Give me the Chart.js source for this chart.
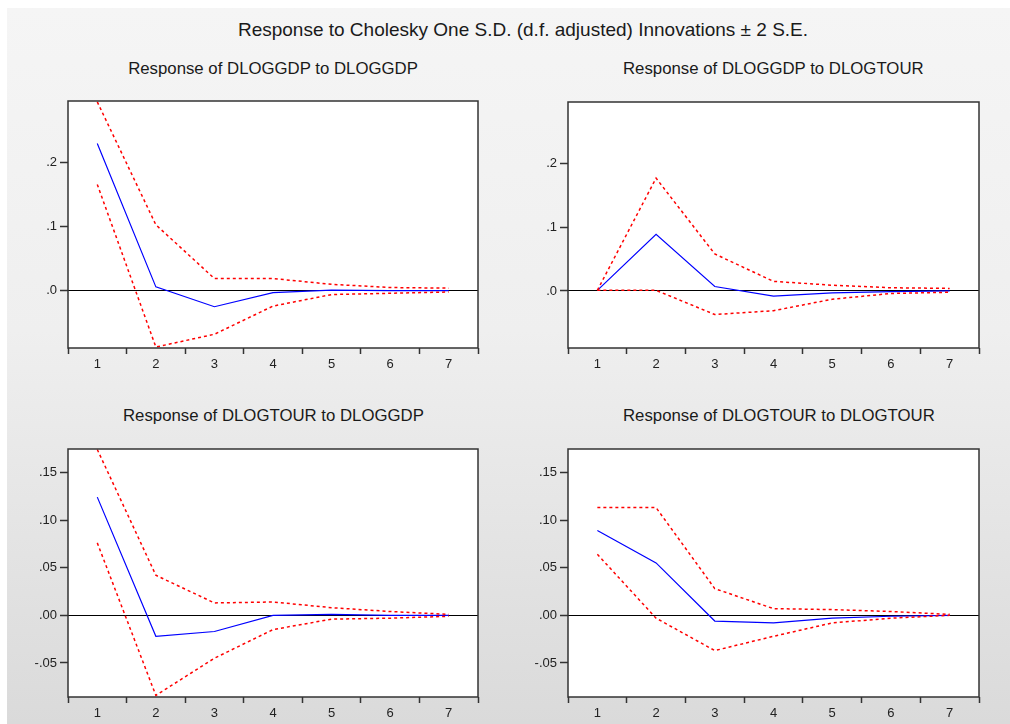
<!DOCTYPE html>
<html>
<head>
<meta charset="utf-8">
<script src="https://cdn.jsdelivr.net/npm/chart.js@4.4.1/dist/chart.umd.min.js"></script>
<style>
body{margin:0;width:1010px;height:724px;background:#fff;font-family:"Liberation Sans",Arial,sans-serif;overflow:hidden;position:relative}
#page{position:absolute;left:7px;top:8px;right:0;bottom:0;background:linear-gradient(#f5f5f5,#efefef 45%,#dadada)}
.t{position:absolute;color:#1a1a1a;text-align:center;white-space:nowrap}
canvas{position:absolute}
</style>
</head>
<body>
<div id="page"></div>
<div class="t" style="left:173px;width:700px;top:19px;font-size:19px;line-height:22px">Response to Cholesky One S.D. (d.f. adjusted) Innovations ± 2 S.E.</div>
<div class="t" style="left:123px;width:300px;top:59px;font-size:16.8px;line-height:19px">Response of DLOGGDP to DLOGGDP</div>
<div class="t" style="left:623px;width:300px;top:59px;font-size:16.8px;line-height:19px">Response of DLOGGDP to DLOGTOUR</div>
<div class="t" style="left:123px;width:300px;top:406px;font-size:16.8px;line-height:19px">Response of DLOGTOUR to DLOGGDP</div>
<div class="t" style="left:623px;width:300px;top:406px;font-size:16.8px;line-height:19px">Response of DLOGTOUR to DLOGTOUR</div>
<canvas id="c1" width="500" height="290" style="left:0;top:90px"></canvas>
<canvas id="c2" width="510" height="290" style="left:500px;top:90px"></canvas>
<canvas id="c3" width="500" height="294" style="left:0;top:430px"></canvas>
<canvas id="c4" width="510" height="294" style="left:500px;top:430px"></canvas>
<script>
const steps=["1","2","3","4","5","6","7"];

// DLOGGDP to DLOGGDP
const gdpGdp=[0.230,0.006,-0.025,-0.003,0.001,0.000,0.000];
const gdpGdpUp=[0.295,0.103,0.019,0.019,0.010,0.005,0.004];
const gdpGdpLo=[0.166,-0.088,-0.068,-0.024,-0.006,-0.004,-0.002];

// DLOGGDP to DLOGTOUR
const gdpTour=[0.001,0.089,0.007,-0.008,-0.003,-0.001,0.000];
const gdpTourUp=[0.001,0.177,0.058,0.015,0.009,0.005,0.004];
const gdpTourLo=[0.001,0.001,-0.037,-0.031,-0.013,-0.004,-0.002];

// DLOGTOUR to DLOGGDP
const tourGdp=[0.124,-0.022,-0.017,0.000,0.001,0.000,0.000];
const tourGdpUp=[0.174,0.042,0.013,0.014,0.008,0.004,0.001];
const tourGdpLo=[0.076,-0.084,-0.045,-0.015,-0.004,-0.003,-0.001];

// DLOGTOUR to DLOGTOUR
const tourTour=[0.089,0.055,-0.006,-0.008,-0.003,-0.001,0.000];
const tourTourUp=[0.113,0.113,0.028,0.007,0.006,0.004,0.001];
const tourTourLo=[0.064,-0.003,-0.037,-0.022,-0.008,-0.003,0.000];

// tick values and labels
const topTicks=[0,0.1,0.2];
const topLabels=[".0",".1",".2"];
const botTicks=[-0.05,0,0.05,0.10,0.15];
const botLabels=["-.05",".00",".05",".10",".15"];

const frame={id:"frame",
beforeDraw(c){const a=c.chartArea,x=c.ctx;x.save();x.fillStyle="#fff";x.fillRect(a.left,a.top,a.width,a.height);x.restore();},
afterDraw(c){const a=c.chartArea,x=c.ctx;x.save();x.strokeStyle="#333";x.lineWidth=1.5;x.strokeRect(a.left,a.top,a.width,a.height);x.restore();}
};

function panel(id,resp,up,lo,ymin,ymax,tv,tl,padR,padT,xh){
new Chart(document.getElementById(id),{
type:"line",
data:{labels:steps,datasets:[
{data:up,borderColor:"#ff0000",borderWidth:1.5,borderDash:[3,3],pointRadius:0,tension:0},
{data:lo,borderColor:"#ff0000",borderWidth:1.5,borderDash:[3,3],pointRadius:0,tension:0},
{data:resp,borderColor:"#0000ff",borderWidth:1.2,pointRadius:0,tension:0}
]},
options:{
responsive:false,animation:false,
layout:{padding:{left:0,right:padR,top:padT,bottom:0}},
plugins:{legend:{display:false},tooltip:{enabled:false}},
scales:{
x:{type:"category",offset:true,
grid:{offset:true,drawOnChartArea:false,tickLength:6,tickColor:"#333",tickWidth:1.5},
border:{display:false},
ticks:{color:"#222",font:{family:"Liberation Sans",size:13},padding:3,maxRotation:0},
afterFit:s=>{s.height=xh;}},
y:{min:ymin,max:ymax,
afterBuildTicks:s=>{s.ticks=tv.map(v=>({value:v}));},
grid:{color:c=>c.tick&&Math.abs(c.tick.value)<1e-9?"#000":"rgba(0,0,0,0)",lineWidth:1,tickLength:8,tickColor:"#333",tickWidth:1.5},
border:{display:false},
ticks:{color:"#222",font:{family:"Liberation Sans",size:13},padding:3,
callback:(v,i)=>tl[tv.indexOf(tv.find(t=>Math.abs(t-v)<1e-9))]},
afterFit:s=>{s.width=68;}}
}
},
plugins:[frame]
});
}

panel("c1",gdpGdp,gdpGdpUp,gdpGdpLo,-0.0895,0.2964,topTicks,topLabels,22,11,32);
panel("c2",gdpTour,gdpTourUp,gdpTourLo,-0.0895,0.2964,topTicks,topLabels,31,12,32);
panel("c3",tourGdp,tourGdpUp,tourGdpLo,-0.0857,0.1745,botTicks,botLabels,22,19,27);
panel("c4",tourTour,tourTourUp,tourTourLo,-0.0857,0.1745,botTicks,botLabels,31,19,27);
</script>
</body>
</html>
